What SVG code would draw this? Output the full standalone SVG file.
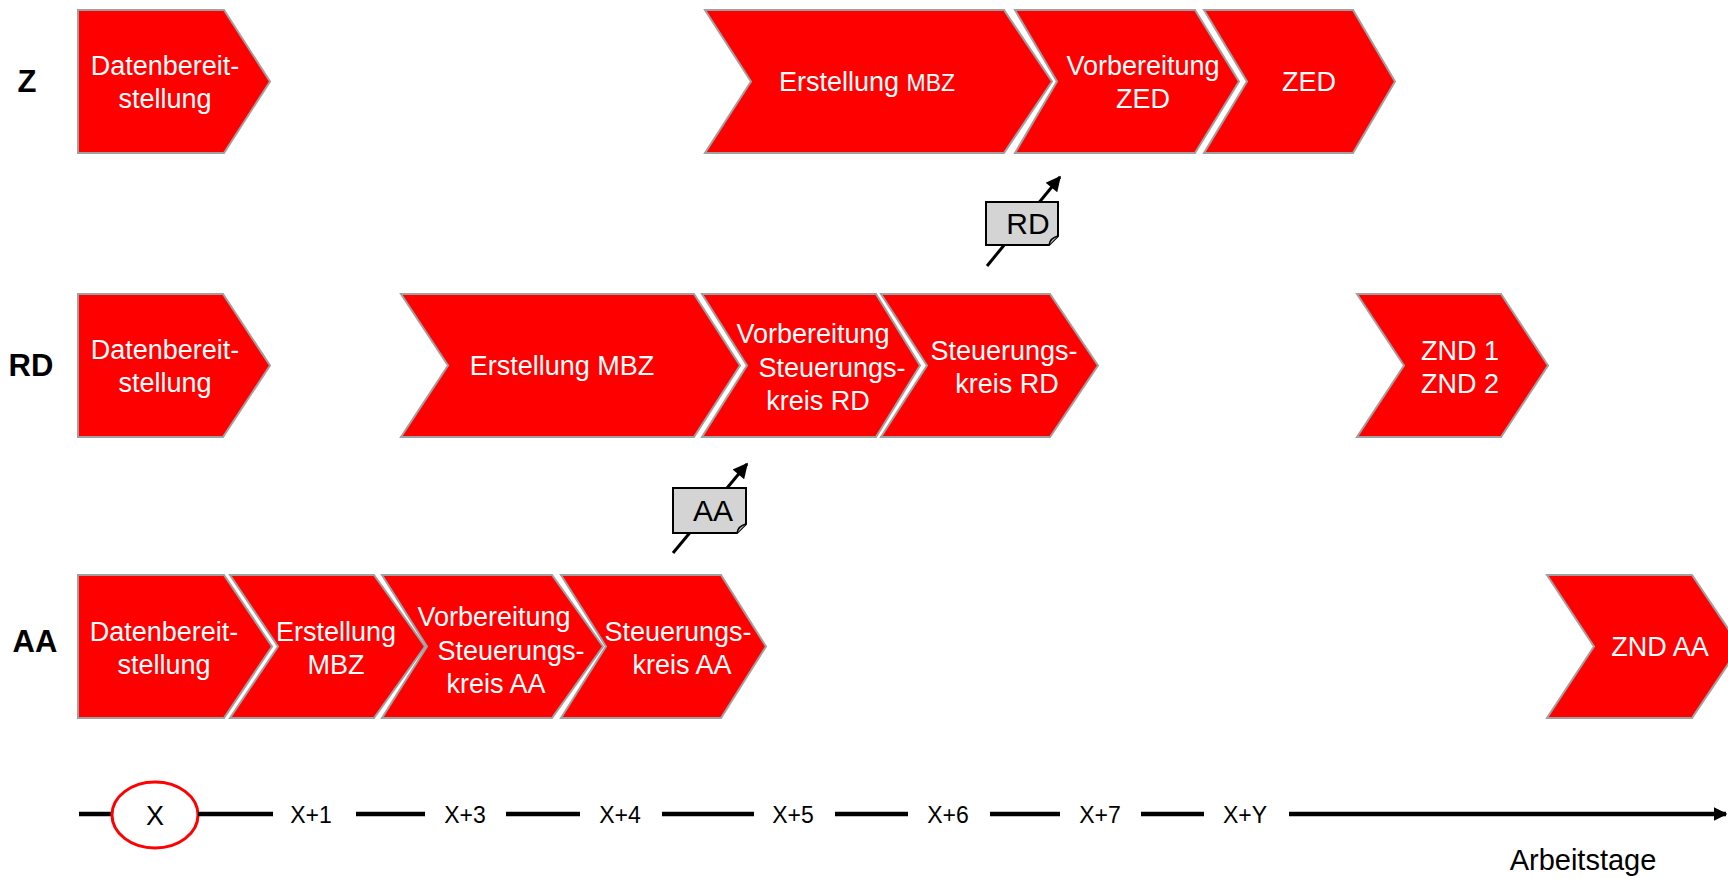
<svg xmlns="http://www.w3.org/2000/svg" width="1728" height="878" viewBox="0 0 1728 878">
<style>
.sh{fill:#ff0000;stroke:#a0a0a0;stroke-width:2}
.t{font-family:"Liberation Sans",Arial,sans-serif;font-size:27px;fill:#ffffff;text-anchor:middle}
.lab{font-family:"Liberation Sans",Arial,sans-serif;font-size:31px;font-weight:bold;fill:#000;text-anchor:middle}
.note{fill:#d4d4d4;stroke:#000;stroke-width:2}
.nt{font-family:"Liberation Sans",Arial,sans-serif;font-size:30px;fill:#000;text-anchor:middle}
.tl{stroke:#000;stroke-width:4.5;fill:none}
.tt{font-family:"Liberation Sans",Arial,sans-serif;font-size:23px;fill:#000;text-anchor:middle}
.arr{stroke:#000;stroke-width:3;fill:none}
</style>
<defs>
<marker id="ah" viewBox="0 0 10 10" refX="9" refY="5" markerWidth="6" markerHeight="5" orient="auto" markerUnits="strokeWidth">
<path d="M0,0 L10,5 L0,10 Z" fill="#000"/>
</marker>
<marker id="ah2" viewBox="0 0 10 10" refX="9" refY="5" markerWidth="3" markerHeight="3" orient="auto" markerUnits="strokeWidth">
<path d="M0,0 L10,5 L0,10 Z" fill="#000"/>
</marker>
</defs>

<g id="labels">
<text class="lab" x="27" y="92">Z</text>
<text class="lab" x="31" y="376">RD</text>
<text class="lab" x="35" y="652">AA</text>
</g>

<g id="z-datenbereitstellung">
<path class="sh" d="M78,10 H224 L270,81.5 L224,153 H78 Z"/>
<text class="t" x="165" y="75">Datenbereit-</text>
<text class="t" x="165" y="108">stellung</text>
</g>
<g id="z-erstellung-mbz">
<path class="sh" d="M705,10 H1004 L1052,81.5 L1004,153 H705 L751,81.5 Z"/>
<text class="t" x="867" y="91">Erstellung <tspan style="font-size:23px">MBZ</tspan></text>
</g>
<g id="z-vorbereitung-zed">
<path class="sh" d="M1015,10 H1195 L1239,81.5 L1195,153 H1015 L1057,81.5 Z"/>
<text class="t" x="1143" y="75">Vorbereitung</text>
<text class="t" x="1143" y="108">ZED</text>
</g>
<g id="z-zed">
<path class="sh" d="M1204,10 H1353 L1395,81.5 L1353,153 H1204 L1247,81.5 Z"/>
<text class="t" x="1309" y="91">ZED</text>
</g>

<g id="rd-datenbereitstellung">
<path class="sh" d="M78,294 H223 L270,365.5 L223,437 H78 Z"/>
<text class="t" x="165" y="359">Datenbereit-</text>
<text class="t" x="165" y="392">stellung</text>
</g>
<g id="rd-erstellung-mbz">
<path class="sh" d="M401,294 H694 L740,365.5 L694,437 H401 L448,365.5 Z"/>
<text class="t" x="562" y="375">Erstellung MBZ</text>
</g>
<g id="rd-vorbereitung-steuerungskreis">
<path class="sh" d="M702,294 H876 L920,365.5 L876,437 H702 L747,365.5 Z"/>
<text class="t" x="813" y="343">Vorbereitung</text>
<text class="t" x="832" y="376.5">Steuerungs-</text>
<text class="t" x="818" y="410">kreis RD</text>
</g>
<g id="rd-steuerungskreis">
<path class="sh" d="M881,294 H1050 L1098,365.5 L1050,437 H881 L927,365.5 Z"/>
<text class="t" x="1004" y="360">Steuerungs-</text>
<text class="t" x="1007" y="393">kreis RD</text>
</g>
<g id="rd-znd">
<path class="sh" d="M1357,294 H1501 L1548,365.5 L1501,437 H1357 L1404,365.5 Z"/>
<text class="t" x="1460" y="360">ZND 1</text>
<text class="t" x="1460" y="393">ZND 2</text>
</g>

<g id="aa-datenbereitstellung">
<path class="sh" d="M78,575 H224 L272,646.5 L224,718 H78 Z"/>
<text class="t" x="164" y="641">Datenbereit-</text>
<text class="t" x="164" y="674">stellung</text>
</g>
<g id="aa-erstellung-mbz">
<path class="sh" d="M230,575 H374 L425,646.5 L374,718 H230 L278,646.5 Z"/>
<text class="t" x="336" y="641">Erstellung</text>
<text class="t" x="336" y="674">MBZ</text>
</g>
<g id="aa-vorbereitung-steuerungskreis">
<path class="sh" d="M382,575 H552 L603,646.5 L552,718 H382 L427,646.5 Z"/>
<text class="t" x="494" y="626">Vorbereitung</text>
<text class="t" x="511" y="659.5">Steuerungs-</text>
<text class="t" x="496" y="693">kreis AA</text>
</g>
<g id="aa-steuerungskreis">
<path class="sh" d="M561,575 H721 L766,646.5 L721,718 H561 L606,646.5 Z"/>
<text class="t" x="678" y="641">Steuerungs-</text>
<text class="t" x="682" y="674">kreis AA</text>
</g>
<g id="aa-znd">
<path class="sh" d="M1547,575 H1692 L1740,646.5 L1692,718 H1547 L1594,646.5 Z"/>
<text class="t" x="1660" y="656">ZND AA</text>
</g>

<g id="connectors">
<line class="arr" x1="987" y1="266" x2="1060" y2="177" marker-end="url(#ah)"/>
<line class="arr" x1="673" y1="553" x2="747" y2="464" marker-end="url(#ah)"/>
</g>

<g id="note-rd">
<path class="note" d="M986,202 H1058 V236 L1049,245 H986 Z"/>
<path d="M1049,245 Q1050,238 1058,236" fill="#bbb" stroke="#000" stroke-width="1.5"/>
<text class="nt" x="1028" y="234">RD</text>
</g>
<g id="note-aa">
<path class="note" d="M673,488 H746 V524 L737,533 H673 Z"/>
<path d="M737,533 Q738,526 746,524" fill="#bbb" stroke="#000" stroke-width="1.5"/>
<text class="nt" x="713" y="521">AA</text>
</g>

<g id="timeline">
<line class="tl" x1="79" y1="814" x2="112" y2="814"/>
<ellipse cx="155" cy="815" rx="43" ry="33" fill="#fff" stroke="#ff0000" stroke-width="3"/>
<text class="tt" x="155" y="825" style="font-size:27px">X</text>
<line class="tl" x1="198" y1="814" x2="273" y2="814"/>
<text class="tt" x="311" y="823">X+1</text>
<line class="tl" x1="356" y1="814" x2="425" y2="814"/>
<text class="tt" x="465" y="823">X+3</text>
<line class="tl" x1="506" y1="814" x2="580" y2="814"/>
<text class="tt" x="620" y="823">X+4</text>
<line class="tl" x1="662" y1="814" x2="754" y2="814"/>
<text class="tt" x="793" y="823">X+5</text>
<line class="tl" x1="835" y1="814" x2="908" y2="814"/>
<text class="tt" x="948" y="823">X+6</text>
<line class="tl" x1="990" y1="814" x2="1060" y2="814"/>
<text class="tt" x="1100" y="823">X+7</text>
<line class="tl" x1="1141" y1="814" x2="1204" y2="814"/>
<text class="tt" x="1245" y="823">X+Y</text>
<line class="tl" x1="1289" y1="814" x2="1726" y2="814" marker-end="url(#ah2)"/>
<text class="tt" x="1583" y="870" style="font-size:29px">Arbeitstage</text>
</g>
</svg>
